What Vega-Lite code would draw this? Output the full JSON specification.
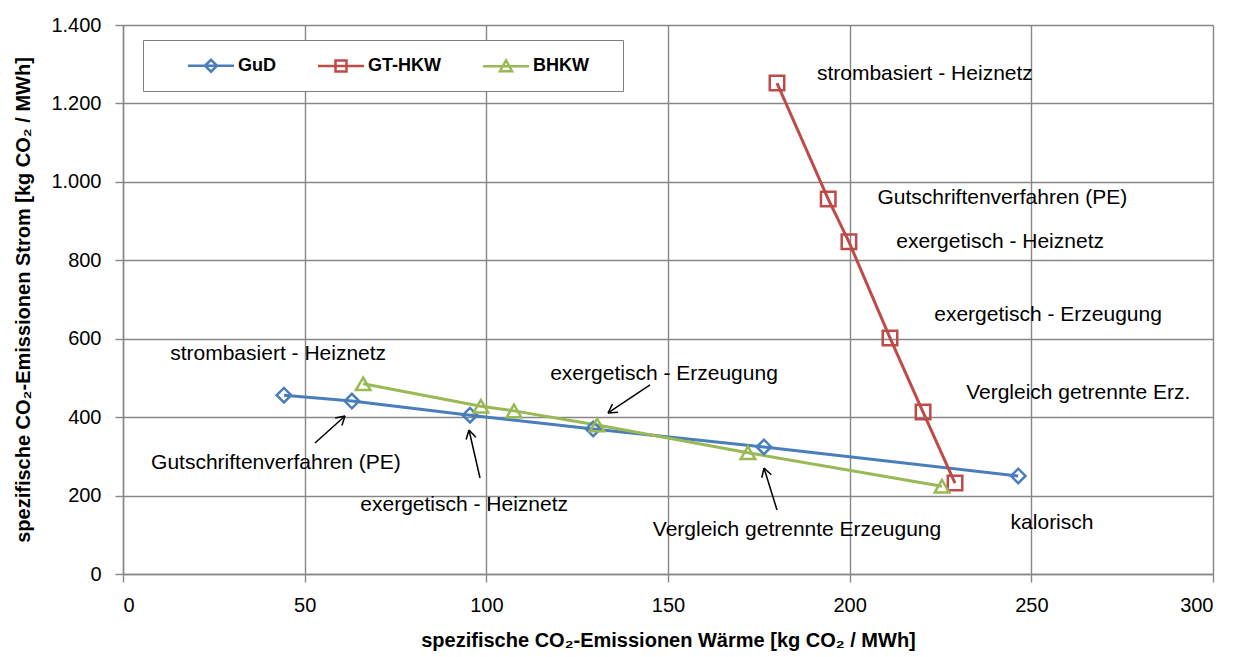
{
  "$schema": "https://vega.github.io/schema/vega-lite/v6.json",
  "autosize": {"type": "none"},
  "width": 1090,
  "height": 549,
  "padding": {"left": 123, "top": 25, "right": 30, "bottom": 83},
  "background": "white",
  "config": {
    "font": "Liberation Sans",
    "view": {"stroke": null},
    "axis": {
      "labelFont": "Liberation Sans",
      "labelFontSize": 20,
      "labelColor": "#000",
      "titleFont": "Liberation Sans",
      "titleFontSize": 20,
      "titleFontWeight": "bold",
      "titleColor": "#000",
      "gridColor": "#878787",
      "gridWidth": 1.4,
      "gridOpacity": 1,
      "domainColor": "#878787",
      "domainWidth": 1.4,
      "tickColor": "#878787",
      "tickWidth": 1.4,
      "tickSize": 8
    }
  },
  "datasets": {
    "series": [
      {"series": "GuD", "w": 44.3, "s": 456},
      {"series": "GuD", "w": 63.0, "s": 441},
      {"series": "GuD", "w": 95.5, "s": 405},
      {"series": "GuD", "w": 129.4, "s": 370},
      {"series": "GuD", "w": 176.4, "s": 324},
      {"series": "GuD", "w": 246.4, "s": 250},
      {"series": "GT-HKW", "w": 180.0, "s": 1252},
      {"series": "GT-HKW", "w": 194.1, "s": 956},
      {"series": "GT-HKW", "w": 199.8, "s": 847},
      {"series": "GT-HKW", "w": 211.1, "s": 602},
      {"series": "GT-HKW", "w": 220.2, "s": 413},
      {"series": "GT-HKW", "w": 229.0, "s": 232},
      {"series": "BHKW", "w": 66.1, "s": 485},
      {"series": "BHKW", "w": 98.5, "s": 428},
      {"series": "BHKW", "w": 107.6, "s": 416},
      {"series": "BHKW", "w": 130.5, "s": 380},
      {"series": "BHKW", "w": 172.0, "s": 309},
      {"series": "BHKW", "w": 225.4, "s": 224}
    ],
    "labels": [
      {"text": "strombasiert - Heiznetz", "w": 220.7, "s": 1276},
      {"text": "Gutschriftenverfahren (PE)", "w": 242.0, "s": 959},
      {"text": "exergetisch - Heiznetz", "w": 241.4, "s": 847},
      {"text": "exergetisch - Erzeugung", "w": 254.6, "s": 660},
      {"text": "Vergleich getrennte Erz.", "w": 262.9, "s": 462},
      {"text": "kalorisch", "w": 255.7, "s": 130},
      {"text": "strombasiert - Heiznetz", "w": 42.7, "s": 561},
      {"text": "Gutschriftenverfahren (PE)", "w": 42.1, "s": 283},
      {"text": "exergetisch - Heiznetz", "w": 93.9, "s": 176},
      {"text": "exergetisch - Erzeugung", "w": 148.9, "s": 510},
      {"text": "Vergleich getrennte Erzeugung", "w": 185.5, "s": 112}
    ],
    "arrows": [
      {"w": 52.84, "s": 334.1, "w2": 61.10, "s2": 402.9},
      {"w": 58.40, "s": 397.6, "w2": 61.10, "s2": 402.9},
      {"w": 60.25, "s": 378.7, "w2": 61.10, "s2": 402.9},
      {"w": 98.26, "s": 244.8, "w2": 95.23, "s2": 367.2},
      {"w": 94.42, "s": 342.8, "w2": 95.23, "s2": 367.2},
      {"w": 97.11, "s": 348.5, "w2": 95.23, "s2": 367.2},
      {"w": 145.05, "s": 482.0, "w2": 133.49, "s2": 410.6},
      {"w": 136.23, "s": 412.2, "w2": 133.49, "s2": 410.6},
      {"w": 134.71, "s": 433.4, "w2": 133.49, "s2": 410.6},
      {"w": 180.0, "s": 163.2, "w2": 176.42, "s2": 270.3},
      {"w": 175.81, "s": 245.4, "w2": 176.42, "s2": 270.3},
      {"w": 178.44, "s": 253.0, "w2": 176.42, "s2": 270.3}
    ],
    "legend": [
      {"series": "GuD"},
      {"series": "GT-HKW"},
      {"series": "BHKW"}
    ]
  },
  "layer": [
    {
      "data": {"name": "series"},
      "mark": {"type": "line", "strokeWidth": 3},
      "encoding": {
        "x": {
          "field": "w", "type": "quantitative",
          "scale": {"domain": [0, 300], "nice": false},
          "axis": {
            "values": [0, 50, 100, 150, 200, 250, 300],
            "title": "spezifische CO₂-Emissionen Wärme [kg CO₂ / MWh]",
            "labelPadding": 13,
            "titlePadding": 15
          }
        },
        "y": {
          "field": "s", "type": "quantitative",
          "scale": {"domain": [0, 1400], "nice": false},
          "axis": {
            "values": [0, 200, 400, 600, 800, 1000, 1200, 1400],
            "labelExpr": "replace(format(datum.value, ','), ',', '.')",
            "title": "spezifische CO₂-Emissionen Strom [kg CO₂ / MWh]",
            "labelPadding": 14,
            "titlePadding": 17
          }
        },
        "color": {
          "field": "series", "type": "nominal",
          "scale": {"domain": ["GuD", "GT-HKW", "BHKW"], "range": ["#4A7EBB", "#BE4B48", "#98B954"]},
          "legend": null
        }
      }
    },
    {
      "data": {"name": "series"},
      "mark": {"type": "point", "filled": false, "strokeWidth": 2.5, "size": 210, "opacity": 1},
      "encoding": {
        "x": {"field": "w", "type": "quantitative"},
        "y": {"field": "s", "type": "quantitative"},
        "color": {
          "field": "series", "type": "nominal",
          "scale": {"domain": ["GuD", "GT-HKW", "BHKW"], "range": ["#4A7EBB", "#BE4B48", "#98B954"]},
          "legend": null
        },
        "shape": {
          "field": "series", "type": "nominal",
          "scale": {"domain": ["GuD", "GT-HKW", "BHKW"], "range": ["diamond", "square", "triangle-up"]},
          "legend": null
        }
      }
    },
    {
      "data": {"name": "arrows"},
      "mark": {"type": "rule", "color": "#000", "strokeWidth": 1.5},
      "encoding": {
        "x": {"field": "w", "type": "quantitative"},
        "y": {"field": "s", "type": "quantitative"},
        "x2": {"field": "w2"},
        "y2": {"field": "s2"}
      }
    },
    {
      "data": {"name": "labels"},
      "mark": {"type": "text", "font": "Liberation Sans", "fontSize": 21, "color": "#000", "align": "center", "baseline": "middle"},
      "encoding": {
        "x": {"field": "w", "type": "quantitative"},
        "y": {"field": "s", "type": "quantitative"},
        "text": {"field": "text"}
      }
    },
    {
      "data": {"name": "legend"},
      "mark": {"type": "point", "filled": false, "opacity": 0},
      "encoding": {
        "x": {"datum": 100, "type": "quantitative"},
        "y": {"datum": 100, "type": "quantitative"},
        "color": {
          "field": "series", "type": "nominal",
          "scale": {"domain": ["GuD", "GT-HKW", "BHKW"], "range": ["#4A7EBB", "#BE4B48", "#98B954"]},
          "legend": {
            "title": "\u00a0\u00a0",
            "titleOrient": "right",
            "titlePadding": 20,
            "titleFontSize": 18,
            "orient": "none",
            "legendX": 20,
            "legendY": 15,
            "direction": "horizontal",
            "columns": 3,
            "symbolSize": 400,
            "symbolStrokeWidth": 2.5,
            "symbolOpacity": 1,
            "symbolFillColor": "transparent",
            "labelFont": "Liberation Sans",
            "labelFontSize": 18,
            "labelFontWeight": "bold",
            "labelColor": "#000",
            "labelOffset": 58,
            "labelExpr": "datum.label + '\u00a0\u00a0\u00a0\u00a0'",
            "columnPadding": 11,
            "padding": 14,
            "strokeColor": "#7f7f7f",
            "fillColor": "white"
          }
        },
        "shape": {
          "field": "series", "type": "nominal",
          "scale": {
            "domain": ["GuD", "GT-HKW", "BHKW"],
            "range": [
              "M1.95,0L6.55,0M3.65,0L4.25,-0.6L4.85,0L4.25,0.6Z",
              "M1.95,0L6.55,0M3.7,-0.55L4.8,-0.55L4.8,0.55L3.7,0.55Z",
              "M1.95,0L6.55,0M4.25,-0.6L4.85,0.5L3.65,0.5Z"
            ]
          },
          "legend": {
            "title": "\u00a0\u00a0",
            "titleOrient": "right",
            "titlePadding": 20,
            "titleFontSize": 18,
            "orient": "none",
            "legendX": 20,
            "legendY": 15,
            "direction": "horizontal",
            "columns": 3,
            "symbolSize": 400,
            "symbolStrokeWidth": 2.5,
            "symbolOpacity": 1,
            "symbolFillColor": "transparent",
            "labelFont": "Liberation Sans",
            "labelFontSize": 18,
            "labelFontWeight": "bold",
            "labelColor": "#000",
            "labelOffset": 58,
            "labelExpr": "datum.label + '\u00a0\u00a0\u00a0\u00a0'",
            "columnPadding": 11,
            "padding": 14,
            "strokeColor": "#7f7f7f",
            "fillColor": "white"
          }
        }
      }
    }
  ],
  "resolve": {
    "scale": {"shape": "independent"},
    "legend": {"color": "independent", "shape": "independent"}
  }
}
